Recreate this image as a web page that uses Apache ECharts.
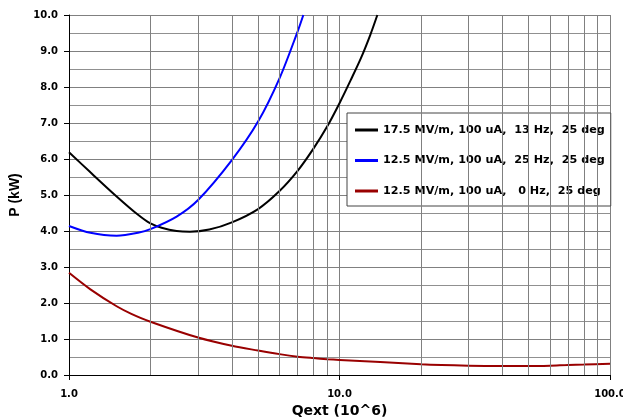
<!DOCTYPE html>
<html>
<head>
<meta charset="utf-8">
<script src="https://cdn.jsdelivr.net/npm/echarts@6/dist/echarts.min.js"></script>
<style>html,body{margin:0;padding:0;background:#fff}#c{width:623px;height:420px}</style>
</head>
<body>
<div id="c"></div>
<script>
// Series names
const seriesNames = [
  '17.5 MV/m, 100 uA,  13 Hz,  25 deg',
  '12.5 MV/m, 100 uA,  25 Hz,  25 deg',
  '12.5 MV/m, 100 uA,   0 Hz,  25 deg'
];
// Black curve (17.5 MV/m, 13 Hz)
const qBlack = [1, 1.2, 1.5, 1.8, 2, 2.2, 2.5, 2.8, 3.3, 4, 5, 6, 7, 8, 9, 10, 11, 12, 13, 13.8];
const pBlack = [6.19, 5.63, 4.96, 4.45, 4.21, 4.09, 4.0, 3.98, 4.04, 4.24, 4.61, 5.11, 5.67, 6.28, 6.9, 7.55, 8.19, 8.8, 9.45, 10.0];
// Blue curve (12.5 MV/m, 25 Hz)
const qBlue = [1, 1.2, 1.5, 1.8, 2, 2.5, 3, 4, 5, 6, 7, 7.35];
const pBlue = [4.14, 3.95, 3.87, 3.95, 4.05, 4.40, 4.86, 5.97, 7.04, 8.24, 9.54, 10.0];
// Dark red curve (12.5 MV/m, 0 Hz)
const qRed = [1, 1.2, 1.5, 1.7, 2, 3, 4, 5, 6, 7, 8, 9, 10, 20, 30, 40, 50, 60, 70, 80, 100];
const pRed = [2.84, 2.38, 1.91, 1.70, 1.48, 1.04, 0.81, 0.68, 0.58, 0.51, 0.47, 0.44, 0.42, 0.30, 0.26, 0.25, 0.25, 0.26, 0.28, 0.29, 0.31];
// Minor vertical grid positions on the log axis
const minorGridQ = [2, 3, 4, 5, 6, 7, 8, 9, 20, 30, 40, 50, 60, 70, 80, 90];

const zip = (a, b) => a.map((v, i) => [v, b[i]]);
const colors = ['#000000', '#0000ff', '#990000'];
const tickFont = { fontFamily: 'DejaVu Sans', fontWeight: 'bold', fontSize: 10, color: '#000' };

const chart = echarts.init(document.getElementById('c'), null, { renderer: 'canvas' });
chart.setOption({
  animation: false,
  backgroundColor: '#fff',
  grid: { left: 69, right: 13, top: 15, bottom: 45, containLabel: false, outerBoundsMode: 'none' },
  legend: {
    orient: 'vertical',
    left: 347, top: 113,
    padding: [10, 6, 8, 8],
    itemGap: 16.5,
    itemWidth: 23, itemHeight: 3,
    itemTextGap: 2,
    icon: 'rect',
    backgroundColor: '#fff',
    borderColor: '#444', borderWidth: 1,
    textStyle: { fontFamily: 'DejaVu Sans', fontWeight: 'bold', fontSize: 11.2, color: '#000', lineHeight: 14 },
    data: seriesNames
  },
  xAxis: {
    type: 'log', logBase: 10, min: 1, max: 100,
    name: 'Qext (10^6)', nameLocation: 'middle', nameGap: 19,
    nameTextStyle: { fontFamily: 'DejaVu Sans', fontWeight: 'bold', fontSize: 14, color: '#000' },
    axisLine: { show: true, lineStyle: { color: '#000', width: 1 } },
    axisTick: { show: true, length: 5, lineStyle: { color: '#000' } },
    axisLabel: { ...tickFont, margin: 14, formatter: v => Number(v).toFixed(1) },
    splitLine: { show: true, lineStyle: { color: '#808080', width: 1 } }
  },
  yAxis: {
    type: 'value', min: 0, max: 10, interval: 1,
    name: 'P (kW)', nameLocation: 'middle', nameGap: 36, nameRotate: 90,
    nameTextStyle: { fontFamily: 'Liberation Sans', fontWeight: 'bold', fontSize: 14, color: '#000' },
    axisLine: { show: true, lineStyle: { color: '#000', width: 1 } },
    axisTick: { show: true, length: 5, lineStyle: { color: '#000' } },
    axisLabel: { ...tickFont, margin: 11, formatter: v => v.toFixed(1) },
    splitLine: { show: true, lineStyle: { color: '#808080', width: 1 } },
    minorTick: { show: false, splitNumber: 2 },
    minorSplitLine: { show: true, lineStyle: { color: '#909090', width: 1 } }
  },
  series: [
    {
      name: seriesNames[0], type: 'line', data: zip(qBlack, pBlack),
      smooth: 0.3, showSymbol: false, symbol: 'none', clip: true,
      lineStyle: { color: colors[0], width: 2 }, itemStyle: { color: colors[0] },
      markLine: {
        silent: true, symbol: ['none', 'none'], animation: false,
        label: { show: false },
        lineStyle: { color: '#808080', width: 1, type: 'solid' },
        emphasis: { disabled: true },
        data: minorGridQ.map(q => ({ xAxis: q }))
      },
      z: 3
    },
    {
      name: seriesNames[1], type: 'line', data: zip(qBlue, pBlue),
      smooth: 0.3, showSymbol: false, symbol: 'none', clip: true,
      lineStyle: { color: colors[1], width: 2 }, itemStyle: { color: colors[1] }, z: 3
    },
    {
      name: seriesNames[2], type: 'line', data: zip(qRed, pRed),
      smooth: 0.3, showSymbol: false, symbol: 'none', clip: true,
      lineStyle: { color: colors[2], width: 2 }, itemStyle: { color: colors[2] }, z: 3
    }
  ]
});
</script>
</body>
</html>
